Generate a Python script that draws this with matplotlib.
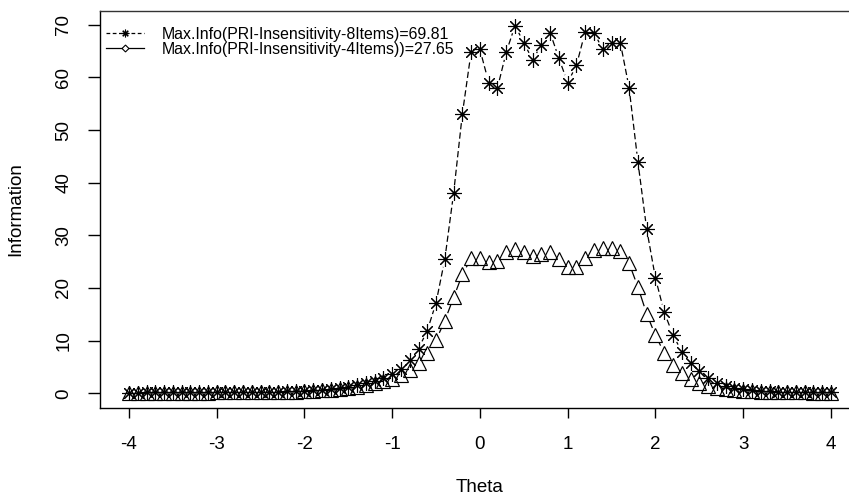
import numpy as np
import matplotlib
matplotlib.use('Agg')
import matplotlib.pyplot as plt
from matplotlib.lines import Line2D
from matplotlib.collections import LineCollection

plt.rcParams['font.family'] = ['Liberation Sans', 'DejaVu Sans']

# ---------------- data ----------------
theta = [-4.0, -3.9, -3.8, -3.7, -3.6, -3.5, -3.4, -3.3, -3.2, -3.1,
         -3.0, -2.9, -2.8, -2.7, -2.6, -2.5, -2.4, -2.3, -2.2, -2.1,
         -2.0, -1.9, -1.8, -1.7, -1.6, -1.5, -1.4, -1.3, -1.2, -1.1,
         -1.0, -0.9, -0.8, -0.7, -0.6, -0.5, -0.4, -0.3, -0.2, -0.1,
         0.0, 0.1, 0.2, 0.3, 0.4, 0.5, 0.6, 0.7, 0.8, 0.9,
         1.0, 1.1, 1.2, 1.3, 1.4, 1.5, 1.6, 1.7, 1.8, 1.9,
         2.0, 2.1, 2.2, 2.3, 2.4, 2.5, 2.6, 2.7, 2.8, 2.9,
         3.0, 3.1, 3.2, 3.3, 3.4, 3.5, 3.6, 3.7, 3.8, 3.9, 4.0]

info_8items = [0.15, 0.15, 0.16, 0.17, 0.18, 0.19, 0.20, 0.20, 0.21, 0.22,
               0.23, 0.24, 0.25, 0.26, 0.27, 0.28, 0.30, 0.32, 0.35, 0.40,
               0.45, 0.55, 0.65, 0.80, 1.00, 1.20, 1.50, 1.90, 2.40, 2.90,
               3.70, 4.70, 6.30, 8.50, 11.9, 17.2, 25.5, 38.0, 53.1, 64.9,
               65.3, 59.0, 58.0, 64.8, 69.81, 66.6, 63.3, 66.2, 68.5, 63.6,
               59.0, 62.3, 68.7, 68.5, 65.3, 66.6, 66.6, 58.0, 44.0, 31.2,
               21.9, 15.4, 11.1, 7.9, 5.7, 4.2, 2.9, 2.0, 1.4, 1.0,
               0.75, 0.55, 0.45, 0.38, 0.32, 0.28, 0.25, 0.23, 0.21, 0.20, 0.19]

info_4items = [0.10, 0.10, 0.11, 0.11, 0.12, 0.12, 0.13, 0.13, 0.14, 0.15,
               0.16, 0.17, 0.18, 0.19, 0.20, 0.22, 0.24, 0.27, 0.30, 0.34,
               0.39, 0.45, 0.55, 0.65, 0.80, 1.00, 1.20, 1.50, 1.90, 2.30,
               2.80, 3.40, 4.50, 5.80, 7.60, 10.1, 13.8, 18.2, 22.6, 25.6,
               25.6, 25.0, 25.2, 26.8, 27.4, 26.8, 26.0, 26.5, 26.9, 25.5,
               23.9, 23.9, 25.7, 27.3, 27.65, 27.5, 27.0, 24.7, 20.2, 15.1,
               11.0, 7.7, 5.4, 3.8, 2.8, 2.0, 1.4, 1.0, 0.75, 0.55,
               0.45, 0.36, 0.30, 0.26, 0.22, 0.20, 0.18, 0.16, 0.15, 0.14, 0.13]

x_ticks = [-4, -3, -2, -1, 0, 1, 2, 3, 4]
y_ticks = [0, 10, 20, 30, 40, 50, 60, 70]
label_8 = "Max.Info(PRI-Insensitivity-8Items)=69.81"
label_4 = "Max.Info(PRI-Insensitivity-4Items))=27.65"
x_title = "Theta"
y_title = "Information"

# ---------------- figure ----------------
W, H = 849, 496
fig = plt.figure(figsize=(W / 100, H / 100), dpi=100)
ax = fig.add_axes([100 / W, (H - 408) / H, (W - 100) / W, (408 - 11) / H])
ax.set_xlim(-4.33, 4.206)
ax.set_ylim(-2.79, 72.6)


def gapped_segments(xs, ys, gap_px):
    pts = ax.transData.transform(np.column_stack([xs, ys]))
    inv = ax.transData.inverted()
    segs = []
    for p0, p1 in zip(pts[:-1], pts[1:]):
        d = p1 - p0
        L = np.hypot(d[0], d[1])
        if L > 2 * gap_px:
            u = d / L
            segs.append(inv.transform(np.array([p0 + u * gap_px, p1 - u * gap_px])))
    return segs


seg8 = gapped_segments(theta, info_8items, 8)
seg4 = gapped_segments(theta, info_4items, 8)
ax.add_collection(LineCollection(seg8, colors='black', linewidths=0.9,
                                 linestyles=[(0, (5, 2.5))]))
ax.add_collection(LineCollection(seg4, colors='black', linewidths=0.9,
                                 linestyles='solid'))

ax.plot(theta, info_8items, ls='none', marker=(8, 2, 0), ms=10.5,
        mec='black', mew=0.8, color='black')
ax.plot(theta, info_4items, ls='none', marker='^', ms=9.5,
        mfc='none', mec='black', mew=0.85)

# axes styling
ax.spines['right'].set_visible(False)
for s in ['left', 'bottom', 'top']:
    ax.spines[s].set_linewidth(1.0)
    ax.spines[s].set_color('black')
ax.spines['top'].set_color('#333333')
ax.set_xticks(x_ticks)
ax.set_xticklabels([str(v) for v in x_ticks])
ax.set_yticks(y_ticks)
ax.set_yticklabels([str(v) for v in y_ticks], rotation=90, va='center')
ax.tick_params(axis='x', length=7.5, width=1, pad=12.5, labelsize=13.5)
ax.tick_params(axis='y', length=8.5, width=1, pad=11.5, labelsize=13.5)

fig.text(479.5 / W, (H - 487) / H, x_title, ha='center', va='center', fontsize=13.5)
fig.text(16 / W, (H - 209.5) / H, y_title, ha='center', va='center',
         rotation=90, fontsize=13.5)

handles = [
    Line2D([], [], color='black', lw=0.9, ls=(0, (3, 2)), marker=(8, 2, 0), ms=5.5, mew=0.8),
    Line2D([], [], color='black', lw=0.9, ls='-', marker='D', ms=3.5, mfc='white', mew=0.8),
]
ax.legend(handles, [label_8, label_4], loc='upper left', frameon=False,
          fontsize=11.4, handlelength=2.4, handletextpad=1.1, labelspacing=0.0,
          borderaxespad=0.0, borderpad=0.0,
          bbox_to_anchor=(6 / 749, 1 - 16 / 397))

fig.savefig('out.png', dpi=100)
